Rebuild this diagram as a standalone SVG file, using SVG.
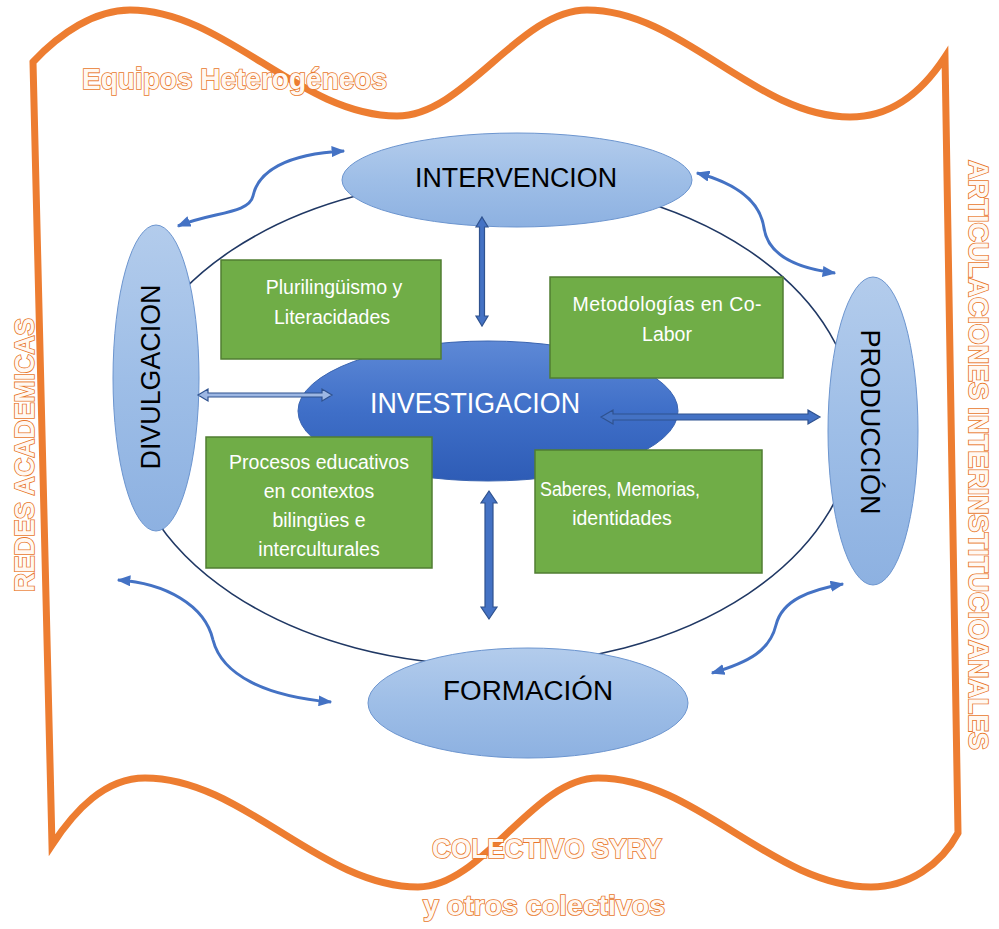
<svg xmlns="http://www.w3.org/2000/svg" width="999" height="929" viewBox="0 0 999 929">
<defs>
<linearGradient id="lb" x1="0" y1="0" x2="0" y2="1">
<stop offset="0" stop-color="#B3CCEC"/><stop offset="0.5" stop-color="#9EBEE7"/><stop offset="1" stop-color="#8DB1E1"/>
</linearGradient>
<linearGradient id="db" x1="0" y1="0" x2="0" y2="1">
<stop offset="0" stop-color="#5E89D6"/><stop offset="0.5" stop-color="#3F6FC8"/><stop offset="1" stop-color="#2E5CB6"/>
</linearGradient>
<marker id="ah" viewBox="0 0 10 8" refX="9" refY="4" markerWidth="4.6" markerHeight="3.7" orient="auto-start-reverse" markerUnits="strokeWidth">
<path d="M0,0 L10,4 L0,8 z" fill="#4472C4"/>
</marker>
<style>
.frame{fill:none;stroke:#ED7D31;stroke-width:7;stroke-linejoin:miter}
.otxt{font-family:"Liberation Sans",Arial,sans-serif;font-weight:bold;fill:#FFF8F2;stroke:#E8772B;stroke-width:1.7;paint-order:stroke}
.lbe{fill:url(#lb);stroke:#6C95CF;stroke-width:1}
.dbe{fill:url(#db);stroke:#3A64B0;stroke-width:1}
.ntxt{font-family:"Liberation Sans",Arial,sans-serif;font-size:27px;fill:#000000}
.gbox{fill:#70AD47;stroke:#507E32;stroke-width:1.5}
.gtxt{font-family:"Liberation Sans",Arial,sans-serif;font-size:19.5px;fill:#ffffff;text-anchor:middle}
.curve{fill:none;stroke:#4472C4;stroke-width:3;marker-start:url(#ah);marker-end:url(#ah)}
.blk{fill:#4472C4;stroke:#2F528F;stroke-width:1.2}
.blkl{fill:#9DB7E3;stroke:#2F528F;stroke-width:1.2}
.ring{fill:none;stroke:#203864;stroke-width:1.6}
</style>
</defs>
<rect x="0" y="0" width="999" height="929" fill="#ffffff"/>

<g id="frame">
<path class="frame" d="M33,62 C60,33 95,10 130,10 C225,10 300,116 397,116 C465,116 519,10 587,10 C682,10 755,117 850,117 C890,117 920,95 945,57 L958,833 C941,865 908,887 871,887 C773,887 696,778 598,778 C533,778 483,887 418,887 C320,887 243,778 145,778 C105,778 75,810 52,845 Z"/>
</g>

<g id="ring">
<ellipse class="ring" cx="490" cy="422" rx="365" ry="243"/>
</g>

<g id="investigacion">
<ellipse class="dbe" cx="488" cy="411" rx="190" ry="70"/>
<text x="475" y="413" font-family="Liberation Sans, Arial, sans-serif" font-size="29" fill="#ffffff" text-anchor="middle" textLength="210" lengthAdjust="spacingAndGlyphs">INVESTIGACION</text>
</g>

<g id="intervencion">
<ellipse class="lbe" cx="517" cy="180" rx="175" ry="47"/>
<text class="ntxt" x="516" y="187" text-anchor="middle" textLength="202" lengthAdjust="spacingAndGlyphs">INTERVENCION</text>
</g>

<g id="divulgacion">
<ellipse class="lbe" cx="156" cy="378" rx="43" ry="153"/>
<text class="ntxt" transform="translate(150,377) rotate(-90)" x="0" y="9.5" text-anchor="middle" textLength="185" lengthAdjust="spacingAndGlyphs">DIVULGACION</text>
</g>

<g id="produccion">
<ellipse class="lbe" cx="873" cy="431" rx="45" ry="154"/>
<text class="ntxt" transform="translate(870,422) rotate(90)" x="0" y="9.5" text-anchor="middle" textLength="185" lengthAdjust="spacingAndGlyphs">PRODUCCIÓN</text>
</g>

<g id="formacion">
<ellipse class="lbe" cx="528" cy="703" rx="160" ry="55"/>
<text class="ntxt" x="528" y="700" text-anchor="middle" textLength="170" lengthAdjust="spacingAndGlyphs">FORMACIÓN</text>
</g>

<g id="box-plurilinguismo">
<rect class="gbox" x="221" y="260" width="220" height="99"/>
<text class="gtxt" x="334" y="294">Plurilingüismo y</text>
<text class="gtxt" x="332" y="324">Literacidades</text>
</g>

<g id="box-metodologias">
<rect class="gbox" x="550" y="277" width="233" height="101"/>
<text class="gtxt" x="667" y="311" textLength="189">Metodologías en Co-</text>
<text class="gtxt" x="667" y="341">Labor</text>
</g>

<g id="box-procesos">
<rect class="gbox" x="206" y="437" width="226" height="131"/>
<text class="gtxt" x="319" y="469">Procesos educativos</text>
<text class="gtxt" x="319" y="498">en contextos</text>
<text class="gtxt" x="319" y="527">bilingües e</text>
<text class="gtxt" x="319" y="556">interculturales</text>
</g>

<g id="box-saberes">
<rect class="gbox" x="535" y="450" width="227" height="123"/>
<text class="gtxt" x="620" y="496" textLength="160" lengthAdjust="spacingAndGlyphs">Saberes, Memorias,</text>
<text class="gtxt" x="622" y="525">identidades</text>
</g>

<g id="connectors">
<polygon class="blk" points="482,217 488,227 484.5,227 484.5,316 488,316 482,326 476,316 479.5,316 479.5,227 476,227"/>
<polygon class="blk" points="489,491 497,503 493,503 493,607 497,607 489,619 481,607 485,607 485,503 481,503"/>
<polygon class="blkl" points="198,395 208,389 208,393 322,393 322,389 332,395 322,401 322,397 208,397 208,401"/>
<polygon class="blk" points="601,417 613,410 613,414 808,414 808,410 820,417 808,424 808,420 613,420 613,424"/>
<path class="curve" d="M178,226 C212,212 249,214 253,196 C258,172 285,154 344,151"/>
<path class="curve" d="M697,173 C735,183 760,200 764,228 C768,255 795,268 835,273"/>
<path class="curve" d="M118,580 C165,583 205,605 213,640 C222,675 265,696 331,702"/>
<path class="curve" d="M712,673 C750,662 770,650 776,625 C782,600 810,590 843,584"/>
</g>

<g id="labels">
<text class="otxt" x="82" y="89" font-size="30" textLength="305" lengthAdjust="spacingAndGlyphs">Equipos Heterogéneos</text>
<text class="otxt" x="432" y="858" font-size="28" textLength="230" lengthAdjust="spacingAndGlyphs">COLECTIVO SYRY</text>
<text class="otxt" x="423" y="915" font-size="28" textLength="242" lengthAdjust="spacingAndGlyphs">y otros colectivos</text>
<text class="otxt" transform="translate(24,455) rotate(-90)" x="0" y="9.5" font-size="27" text-anchor="middle" textLength="274" lengthAdjust="spacingAndGlyphs">REDES ACADEMICAS</text>
<text class="otxt" transform="translate(978,455) rotate(90)" x="0" y="9.5" font-size="27" text-anchor="middle" textLength="590" lengthAdjust="spacingAndGlyphs">ARTICULACIONES INTERINSTITUCIOANALES</text>
</g>
</svg>
